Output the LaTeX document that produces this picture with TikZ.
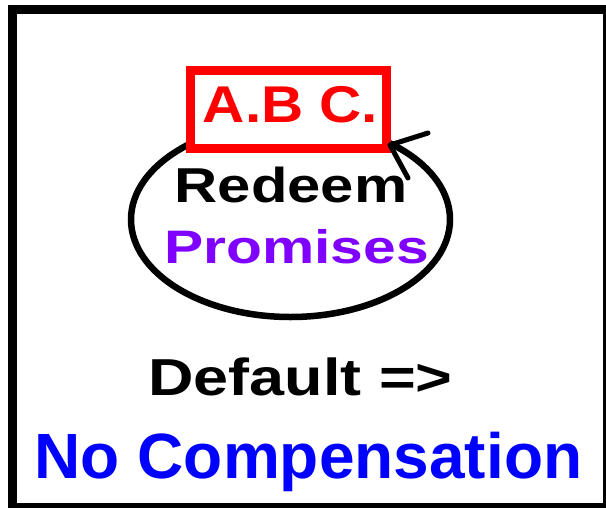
\documentclass[tikz,border=0pt]{standalone}
\usepackage{fontspec}
\setmainfont{Liberation Sans}
\usepackage{graphicx}
\usetikzlibrary{shapes.geometric}
\definecolor{promisepurple}{RGB}{127,0,255}
\newcommand{\bigbold}[1]{\fontsize{#1}{#1}\selectfont\bfseries}
\newcommand{\widen}[2]{\scalebox{#1}[1]{#2}}

\begin{document}
\begin{tikzpicture}[x=1pt,y=-1pt,
    word/.style={anchor=base,inner sep=0pt}]
        \useasboundingbox (0,0) rectangle (606,507);
        \clip (0,0) rectangle (606,507);
        \fill[white] (0,0) rectangle (606,507);
        \draw[line width=9pt] (12.5,9) rectangle (607.5,507.5);

        \node[draw,ellipse,line width=6.5pt,minimum width=319pt,minimum height=195pt,inner sep=0pt] (oval) at (290.5,219.5) {};
        \node[draw=red,fill=white,line width=9pt,minimum width=196pt,minimum height=78pt,inner sep=0pt] (abcbox) at (288,109) {};
        \node[word,red] (abc) at (290.5,122) {\bigbold{51.7}\widen{1.13}{A.B C.}};

        % arrow tip at the corner of the box
        \coordinate (tip) at (390,145);
        \coordinate (barbup) at (428,133);
        \coordinate (barbdown) at (408,178);
        \draw[line width=5pt,line cap=round,line join=round] (barbup) -- (tip) -- (barbdown);

        \node[word] (redeem) at (291,202) {\bigbold{49}\widen{1.22}{Redeem}};
        \node[word,promisepurple] (promises) at (296.5,263) {\bigbold{47}\widen{1.25}{Promises}};
        \node[word] (default) at (300.5,395) {\bigbold{52}\widen{1.21}{Default =>}};
        \node[word,blue] (nocomp) at (308.5,478) {\bigbold{64}No Compensation};
      \end{tikzpicture}
\end{document}
